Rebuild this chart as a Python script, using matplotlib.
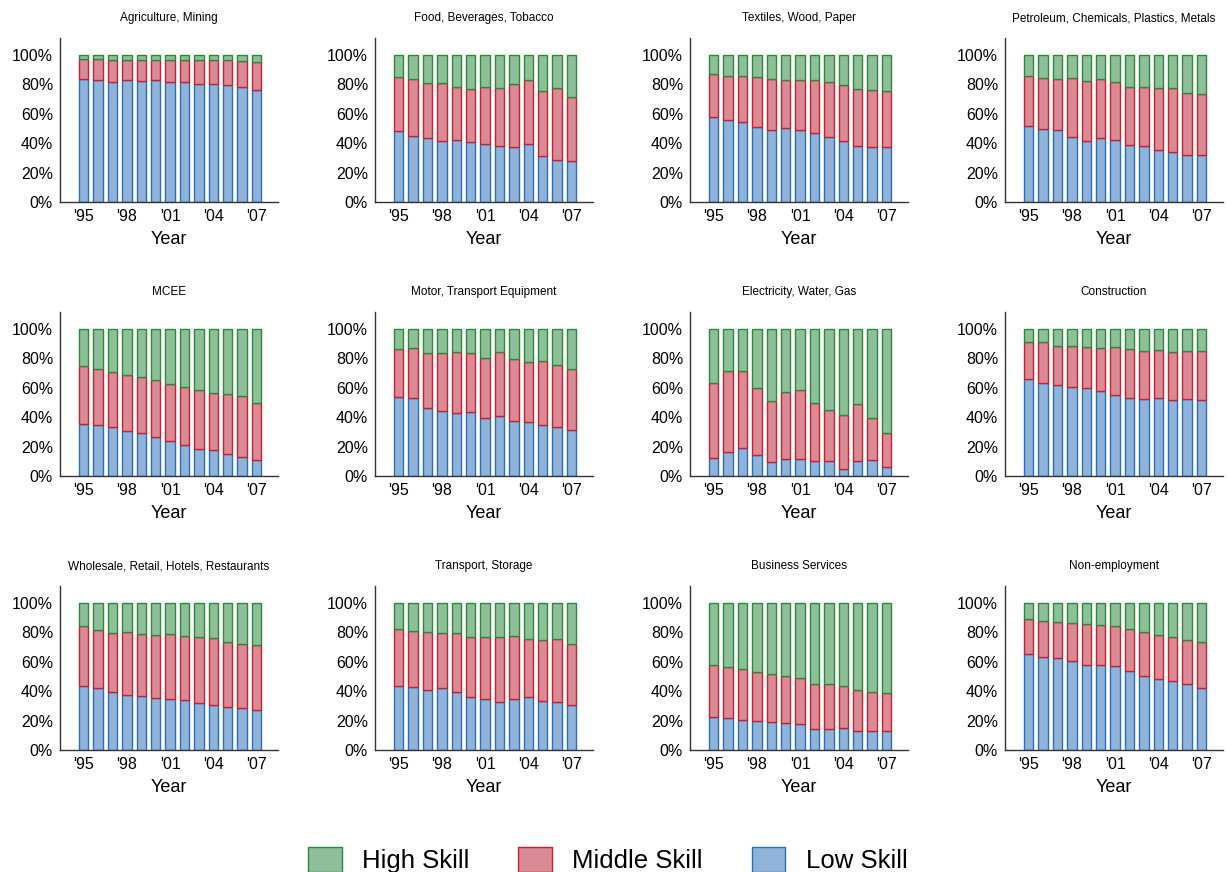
import numpy as np
import matplotlib
matplotlib.use('Agg')
import matplotlib.pyplot as plt
from matplotlib.patches import Patch

plt.rcParams['font.family'] = ['Liberation Sans', 'DejaVu Sans']

years = list(range(1995, 2008))
year_ticks = [1995, 1998, 2001, 2004, 2007]
year_labels = ["'95", "'98", "'01", "'04", "'07"]

sectors = [
    "Agriculture, Mining", "Food, Beverages, Tobacco", "Textiles, Wood, Paper",
    "Petroleum, Chemicals, Plastics, Metals", "MCEE", "Motor, Transport Equipment",
    "Electricity, Water, Gas", "Construction", "Wholesale, Retail, Hotels, Restaurants",
    "Transport, Storage", "Business Services", "Non-employment",
]

# shares in percent, per sector (low skill / middle skill), high = rest
agri_low = [83.9, 83.0, 81.9, 83.0, 82.4, 83.0, 81.7, 81.7, 80.1, 80.1, 79.9, 78.3, 76.2]
agri_mid = [13.2, 14.1, 14.5, 13.4, 14.0, 13.6, 14.7, 14.7, 16.3, 16.7, 16.5, 17.4, 19.0]
food_low = [48.0, 45.0, 43.7, 41.6, 42.1, 40.7, 39.4, 38.2, 37.3, 39.6, 31.4, 28.7, 28.1]
food_mid = [37.3, 38.5, 37.5, 39.2, 36.0, 36.4, 38.7, 39.4, 43.0, 43.7, 44.2, 48.9, 43.2]
text_low = [57.7, 55.9, 54.3, 50.9, 49.1, 50.5, 49.1, 46.8, 44.3, 41.2, 38.2, 37.3, 37.3]
text_mid = [29.4, 29.6, 31.2, 34.2, 34.6, 32.3, 33.7, 36.0, 37.1, 38.4, 38.5, 38.7, 38.0]
petro_low = [51.6, 49.8, 48.9, 44.1, 41.4, 43.7, 42.5, 38.9, 38.0, 35.7, 33.9, 32.1, 31.7]
petro_mid = [33.9, 34.4, 34.6, 40.3, 41.0, 39.8, 39.4, 39.6, 40.3, 41.7, 43.5, 42.3, 42.1]
mcee_low = [35.2, 34.8, 33.6, 30.7, 29.3, 26.8, 23.9, 20.9, 18.6, 17.7, 15.2, 13.0, 10.9]
mcee_mid = [39.8, 38.2, 37.5, 38.2, 38.4, 38.7, 38.4, 39.8, 39.6, 39.1, 40.3, 41.5, 38.6]
motor_low = [53.9, 53.2, 46.1, 43.9, 42.7, 43.6, 39.5, 40.9, 37.5, 36.6, 35.0, 33.2, 31.4]
motor_mid = [32.7, 33.6, 37.5, 40.0, 41.8, 40.3, 41.0, 43.6, 42.3, 40.7, 43.4, 42.0, 41.6]
elec_low = [12.3, 16.1, 19.1, 14.5, 9.8, 11.4, 11.6, 10.2, 10.2, 4.8, 10.2, 10.7, 6.1]
elec_mid = [50.9, 55.5, 52.5, 45.7, 41.3, 46.1, 47.0, 39.6, 34.8, 36.8, 38.9, 28.8, 23.2]
constr_low = [65.7, 63.2, 61.8, 60.9, 60.0, 58.0, 55.2, 53.4, 52.7, 53.4, 51.8, 52.7, 51.8]
constr_mid = [25.2, 27.7, 26.6, 27.3, 27.7, 29.0, 32.3, 32.7, 32.1, 32.1, 32.5, 32.1, 33.4]
whole_low = [43.7, 42.5, 39.6, 37.6, 36.9, 35.5, 34.8, 34.2, 32.1, 30.5, 29.6, 28.5, 26.9]
whole_mid = [40.5, 39.4, 40.0, 42.7, 42.1, 42.8, 44.2, 43.6, 44.6, 45.7, 43.9, 43.7, 44.6]
trans_low = [43.7, 42.8, 40.9, 42.3, 39.6, 36.0, 34.8, 32.6, 34.8, 36.2, 33.3, 32.8, 30.3]
trans_mid = [38.7, 38.2, 39.4, 37.6, 40.3, 40.9, 41.9, 44.3, 42.8, 39.4, 41.4, 42.8, 41.6]
bus_low = [22.6, 21.7, 20.6, 19.9, 19.2, 18.3, 17.6, 14.0, 14.0, 14.7, 13.1, 12.7, 12.7]
bus_mid = [35.5, 34.9, 34.6, 33.0, 32.2, 31.9, 31.7, 31.0, 30.8, 29.0, 27.9, 26.9, 26.4]
nonemp_low = [65.4, 63.3, 62.7, 60.9, 57.9, 57.9, 57.0, 53.6, 50.5, 48.2, 46.8, 44.6, 42.3]
nonemp_mid = [23.5, 24.7, 24.6, 25.8, 27.6, 27.2, 27.2, 28.8, 30.0, 30.1, 30.1, 30.1, 31.2]

low_all = [agri_low, food_low, text_low, petro_low, mcee_low, motor_low,
           elec_low, constr_low, whole_low, trans_low, bus_low, nonemp_low]
mid_all = [agri_mid, food_mid, text_mid, petro_mid, mcee_mid, motor_mid,
           elec_mid, constr_mid, whole_mid, trans_mid, bus_mid, nonemp_mid]

# colours (face, edge)
c_low = ('#8fb3d9', '#2a6ebb')
c_mid = ('#d98a94', '#c8202f')
c_high = ('#8fbf98', '#2a8a3a')

W, H = 1228, 872
fig = plt.figure(figsize=(W / 100, H / 100), dpi=100)

col_left = [60, 375, 690, 1005]
row_bottom = [202, 476, 750]
ax_w, ax_h = 218, 164

for i, name in enumerate(sectors):
    r, c = divmod(i, 4)
    ax = fig.add_axes([col_left[c] / W, 1 - row_bottom[r] / H, ax_w / W, ax_h / H])

    low = np.array(low_all[i]) / 100
    mid = np.array(mid_all[i]) / 100
    high = 1 - low - mid

    bw = 0.65
    ax.bar(years, low, width=bw, color=c_low[0], edgecolor=c_low[1], linewidth=1)
    ax.bar(years, mid, width=bw, bottom=low, color=c_mid[0], edgecolor=c_mid[1], linewidth=1)
    ax.bar(years, high, width=bw, bottom=low + mid, color=c_high[0], edgecolor=c_high[1], linewidth=1)

    ax.set_xlim(1993.35, 2008.5)
    ax.set_ylim(0, 1.116)
    ax.set_xticks(year_ticks)
    ax.set_xticklabels(year_labels)
    ax.set_yticks(np.arange(0, 1.01, 0.2))
    ax.set_yticklabels([f"{int(round(v * 100))}%" for v in np.arange(0, 1.01, 0.2)])
    ax.tick_params(length=0, labelsize=11.5, pad=5)
    ax.set_xlabel("Year", fontsize=13, labelpad=5)
    ax.set_title(name, fontsize=8.5, pad=12)

    for s in ['top', 'right']:
        ax.spines[s].set_visible(False)
    for s in ['left', 'bottom']:
        ax.spines[s].set_color('#333333')
        ax.spines[s].set_linewidth(1)

handles = [
    Patch(facecolor=c_high[0], edgecolor=c_high[1], label='High Skill'),
    Patch(facecolor=c_mid[0], edgecolor=c_mid[1], label='Middle Skill'),
    Patch(facecolor=c_low[0], edgecolor=c_low[1], label='Low Skill'),
]
fig.legend(handles=handles, loc='center', bbox_to_anchor=(0.495, 0.014), ncol=3,
           frameon=False, fontsize=18.5, handlelength=1.3, handleheight=1.15,
           handletextpad=0.8, columnspacing=1.9)

fig.savefig('out.png', dpi=100)
